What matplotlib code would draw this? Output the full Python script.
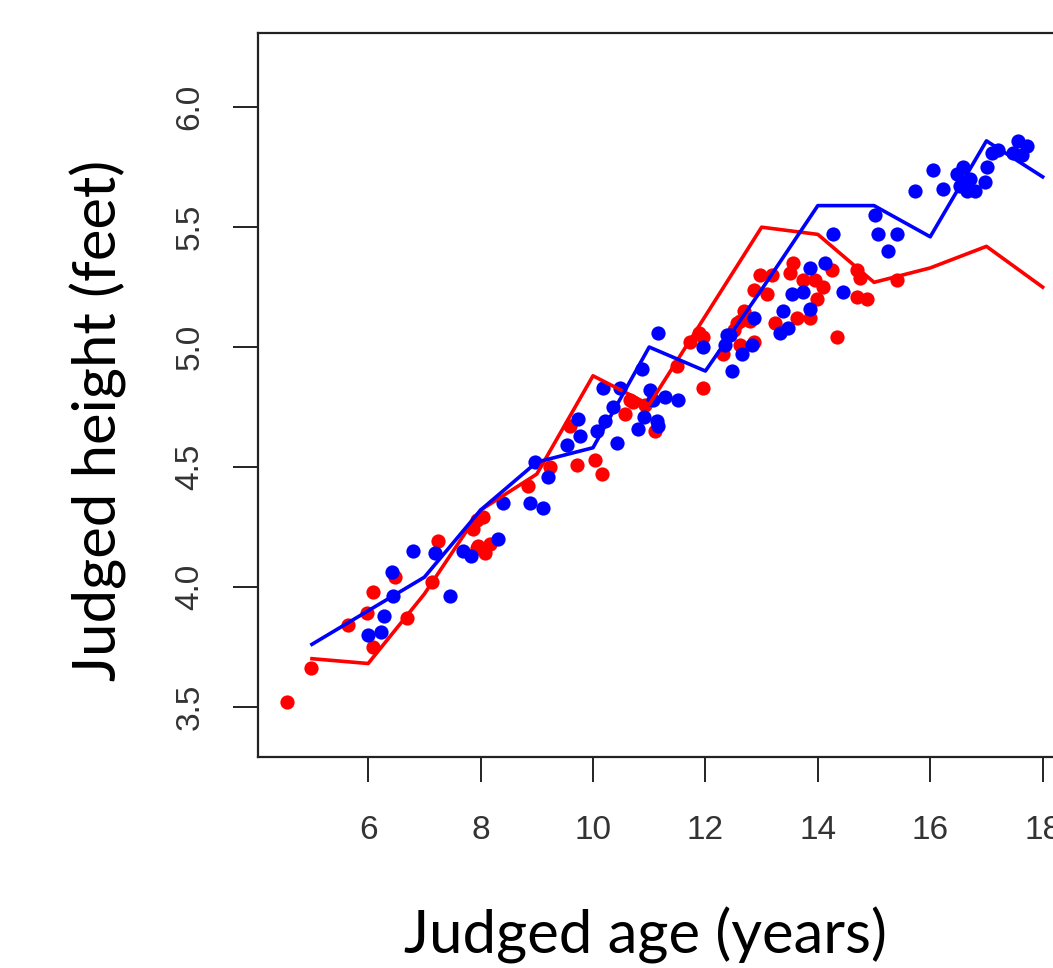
import matplotlib
matplotlib.use("Agg")
import matplotlib.pyplot as plt

# judged age (years) / judged height (feet)
red_age = [4.56, 4.98, 5.65, 5.98, 6.09, 6.09, 6.48, 6.69, 7.13, 7.25, 7.87, 7.93, 7.94, 8.05,
           7.96, 8.17, 8.08, 8.85, 9.24, 9.59, 9.72, 10.04, 10.16, 10.57, 10.72, 10.66, 10.93,
           11.11, 11.50, 11.73, 11.88, 11.96, 12.57, 12.32, 12.98, 13.19, 12.86, 13.10, 13.51,
           13.56, 12.68, 12.62, 12.80, 12.50, 13.24, 13.63, 13.86, 13.74, 13.95, 14.10, 14.26,
           13.99, 14.34, 14.70, 14.75, 14.70, 14.88, 12.86, 12.62, 11.96, 15.41]
red_height = [3.52, 3.66, 3.84, 3.89, 3.98, 3.75, 4.04, 3.87, 4.02, 4.19, 4.24, 4.16, 4.28, 4.29,
              4.17, 4.18, 4.14, 4.42, 4.50, 4.67, 4.51, 4.53, 4.47, 4.72, 4.77, 4.78, 4.76,
              4.65, 4.92, 5.02, 5.06, 4.83, 5.10, 4.97, 5.30, 5.30, 5.24, 5.22, 5.31,
              5.35, 5.15, 5.11, 5.11, 5.07, 5.10, 5.12, 5.12, 5.28, 5.28, 5.25, 5.32,
              5.20, 5.04, 5.32, 5.29, 5.21, 5.20, 5.02, 5.01, 5.04, 5.28]

blue_age = [6.79, 6.42, 7.19, 6.44, 6.28, 6.00, 6.23, 7.45, 7.68, 7.83, 8.31, 8.40, 8.88, 9.11,
            9.20, 8.97, 9.74, 9.77, 9.54, 10.07, 10.22, 10.43, 10.36, 10.48, 10.18, 10.80, 11.16,
            10.88, 11.02, 11.07, 11.28, 11.52, 10.90, 11.14, 11.16, 11.96, 12.39, 12.48, 12.35,
            14.27, 14.13, 13.86, 13.74, 13.54, 13.86, 13.38, 13.47, 13.33, 14.45, 12.86, 12.44,
            12.83, 12.65, 15.02, 15.07, 15.41, 15.25, 15.73, 16.05, 16.23, 16.48, 16.53, 16.66,
            16.80, 16.71, 16.98, 17.01, 17.10, 17.21, 17.57, 17.73, 17.48, 17.64, 16.59]
blue_height = [4.15, 4.06, 4.14, 3.96, 3.88, 3.80, 3.81, 3.96, 4.15, 4.13, 4.20, 4.35, 4.35, 4.33,
               4.46, 4.52, 4.70, 4.63, 4.59, 4.65, 4.69, 4.60, 4.75, 4.83, 4.83, 4.66, 5.06,
               4.91, 4.82, 4.78, 4.79, 4.78, 4.71, 4.69, 4.67, 5.00, 5.05, 4.90, 5.01,
               5.47, 5.35, 5.33, 5.23, 5.22, 5.16, 5.15, 5.08, 5.06, 5.23, 5.12, 5.05,
               5.01, 4.97, 5.55, 5.47, 5.47, 5.40, 5.65, 5.74, 5.66, 5.72, 5.67, 5.65,
               5.65, 5.70, 5.69, 5.75, 5.81, 5.82, 5.86, 5.84, 5.81, 5.80, 5.75]

# mean lines at whole ages
line_age = [5, 6, 7, 8, 9, 10, 11, 12, 13, 14, 15, 16, 17, 18]
red_line = [3.70, 3.68, 3.97, 4.32, 4.47, 4.88, 4.76, 5.13, 5.50, 5.47, 5.27, 5.33, 5.42, 5.25]
blue_line = [3.76, 3.90, 4.04, 4.32, 4.52, 4.58, 5.00, 4.90, 5.24, 5.59, 5.59, 5.46, 5.86, 5.71]

W, H = 1053, 968
fig = plt.figure(figsize=(W / 100, H / 100), dpi=100)
# axes run past the right edge, as in the cropped original
ax = fig.add_axes([258 / W, 1 - 757 / H, (1073 - 258) / W, (757 - 33) / H])

ax.scatter(red_age, red_height, s=105, color="#ff0000", linewidths=0, zorder=2)
ax.scatter(blue_age, blue_height, s=105, color="#0000ff", linewidths=0, zorder=3)
ax.plot(line_age, red_line, color="#ff0000", lw=2.6, zorder=4)
ax.plot(line_age, blue_line, color="#0000ff", lw=2.6, zorder=5)

ax.set_xlim(4.04, 18.54)
ax.set_ylim(3.29, 6.31)
ax.set_xticks([6, 8, 10, 12, 14, 16, 18])
ax.set_yticks([3.5, 4.0, 4.5, 5.0, 5.5, 6.0])
ax.set_yticklabels(["3.5", "4.0", "4.5", "5.0", "5.5", "6.0"], rotation=90, va="center")

for sp in ax.spines.values():
    sp.set_linewidth(1.6)
    sp.set_color("#222222")
ax.tick_params(direction="out", length=18, width=1.4, color="#222222",
               labelsize=24, labelcolor="#333333")
ax.tick_params(axis="x", pad=24)
ax.tick_params(axis="y", pad=20)
for lab in ax.get_xticklabels() + ax.get_yticklabels():
    lab.set_family(["Liberation Sans", "DejaVu Sans"])

fig.text(645 / W, 1 - 935 / H, "Judged age (years)", ha="center", va="center",
         fontsize=43, family=["Lato", "DejaVu Sans"])
fig.text(98 / W, 1 - 420 / H, "Judged height (feet)", ha="center", va="center",
         rotation=90, fontsize=43, family=["Lato", "DejaVu Sans"])

fig.savefig("out.png", dpi=100)
